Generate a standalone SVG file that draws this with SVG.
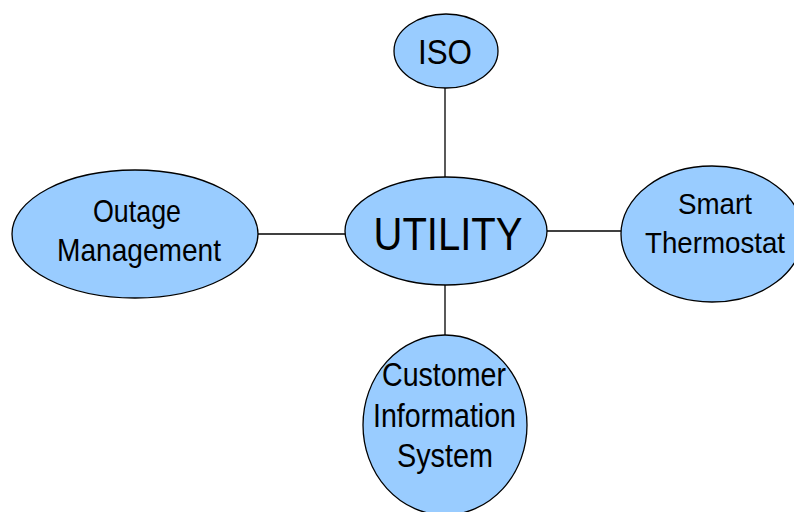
<svg xmlns="http://www.w3.org/2000/svg" width="794" height="512" viewBox="0 0 794 512">
<style>
.n{fill:#99CCFF;stroke:#000;stroke-width:1.3}
.c{stroke:#000;stroke-width:1.3;fill:none}
text{font-family:"Liberation Sans",Arial,sans-serif;fill:#000;text-anchor:middle}
</style>
<rect width="794" height="512" fill="#fff"/>
<g id="connectors">
<line class="c" x1="445" y1="88" x2="445" y2="178"/>
<line class="c" x1="258" y1="234" x2="345" y2="234"/>
<line class="c" x1="547" y1="231" x2="621" y2="231"/>
<line class="c" x1="445" y1="285" x2="445" y2="335"/>
</g>
<g id="iso">
<ellipse class="n" cx="446" cy="51" rx="52" ry="37"/>
<text x="445" y="64" font-size="35" textLength="54" lengthAdjust="spacingAndGlyphs">ISO</text>
</g>
<g id="utility">
<ellipse class="n" cx="446" cy="231" rx="101" ry="54"/>
<text x="448" y="250" font-size="46" textLength="149" lengthAdjust="spacingAndGlyphs">UTILITY</text>
</g>
<g id="outage">
<ellipse class="n" cx="135" cy="234" rx="123" ry="64"/>
<text x="137" y="222" font-size="32" textLength="88" lengthAdjust="spacingAndGlyphs">Outage</text>
<text x="139" y="261" font-size="32" textLength="164" lengthAdjust="spacingAndGlyphs">Management</text>
</g>
<g id="thermostat">
<ellipse class="n" cx="712" cy="234" rx="91" ry="68"/>
<text x="715" y="214" font-size="30" textLength="74" lengthAdjust="spacingAndGlyphs">Smart</text>
<text x="715" y="253" font-size="30" textLength="140" lengthAdjust="spacingAndGlyphs">Thermostat</text>
</g>
<g id="cis">
<ellipse class="n" cx="445" cy="425" rx="82" ry="90"/>
<text x="444" y="386" font-size="33" textLength="124" lengthAdjust="spacingAndGlyphs">Customer</text>
<text x="444.5" y="427" font-size="33" textLength="143" lengthAdjust="spacingAndGlyphs">Information</text>
<text x="445" y="467" font-size="33" textLength="96" lengthAdjust="spacingAndGlyphs">System</text>
</g>
</svg>
